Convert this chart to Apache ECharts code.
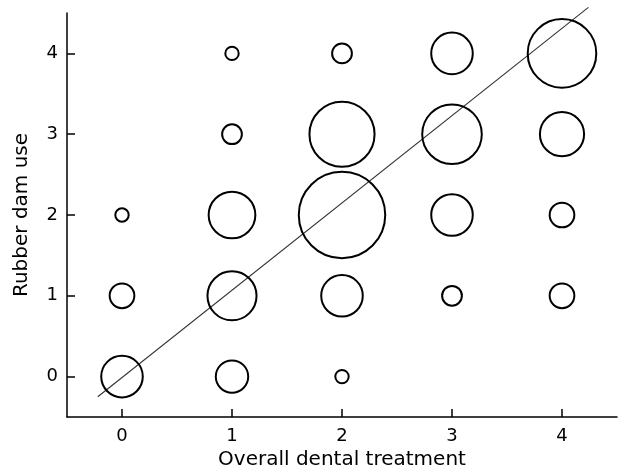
<!DOCTYPE html>
<html>
<head>
<meta charset="utf-8">
<script src="https://cdn.jsdelivr.net/npm/echarts@6/dist/echarts.min.js"></script>
<style>html,body{margin:0;padding:0;background:#fff}#c{width:620px;height:474px}</style>
</head>
<body>
<div id="c"></div>
<script>
const xValues = [0, 0, 0, 1, 1, 1, 1, 1, 2, 2, 2, 2, 2, 3, 3, 3, 3, 4, 4, 4, 4];
const yValues = [0, 1, 2, 0, 1, 2, 3, 4, 0, 1, 2, 3, 4, 1, 2, 3, 4, 1, 2, 3, 4];
const counts  = [8, 3, 1, 5, 11, 10, 2, 1, 1, 8, 33, 19, 2, 2, 8, 16, 8, 3, 3, 9, 21];
const tickValues = [0, 1, 2, 3, 4];
const fitLineX = [-0.22, 4.24];
const fitLineY = [-0.25, 4.57];
const xName = 'Overall dental treatment';
const yName = 'Rubber dam use';

const bubbleData = xValues.map((x, i) => [x, yValues[i], counts[i]]);
const lineData = fitLineX.map((x, i) => [x, fitLineY[i]]);
const font = 'DejaVu Sans';

function makeAxis(name, gap, margin) {
  return {
    type: 'value',
    min: -0.5,
    max: 4.5,
    name: name,
    nameGap: gap,
    nameLocation: 'middle',
    nameTextStyle: { fontFamily: font, fontSize: 20, color: '#000' },
    axisLine: { show: true, onZero: false, lineStyle: { color: '#000', width: 1.5 } },
    axisTick: { show: true, inside: true, length: 8, customValues: tickValues, lineStyle: { color: '#000', width: 1.5 } },
    axisLabel: { show: true, customValues: tickValues, margin: margin, fontFamily: font, fontSize: 18, color: '#000' },
    splitLine: { show: false }
  };
}

const chart = echarts.init(document.getElementById('c'));
chart.setOption({
  animation: false,
  backgroundColor: '#fff',
  textStyle: { fontFamily: font, fontSize: 18, color: '#000' },
  grid: { left: 67, right: 3, top: 13, bottom: 57, containLabel: false, outerBoundsMode: 'none' },
  xAxis: makeAxis(xName, 31, 10),
  yAxis: makeAxis(yName, 35, 9),
  series: [
    {
      type: 'line',
      data: lineData,
      showSymbol: false,
      clip: false,
      silent: true,
      lineStyle: { color: '#333', width: 1.1 },
      z: 1
    },
    {
      type: 'scatter',
      data: bubbleData,
      symbol: 'circle',
      symbolSize: function (v) { return 15.4 * Math.sqrt(v[2]) - 2; },
      itemStyle: { color: 'rgba(255,255,255,0)', borderColor: '#000', borderWidth: 2, opacity: 1 },
      emphasis: { disabled: true },
      silent: true,
      z: 2
    }
  ]
});
</script>
</body>
</html>
